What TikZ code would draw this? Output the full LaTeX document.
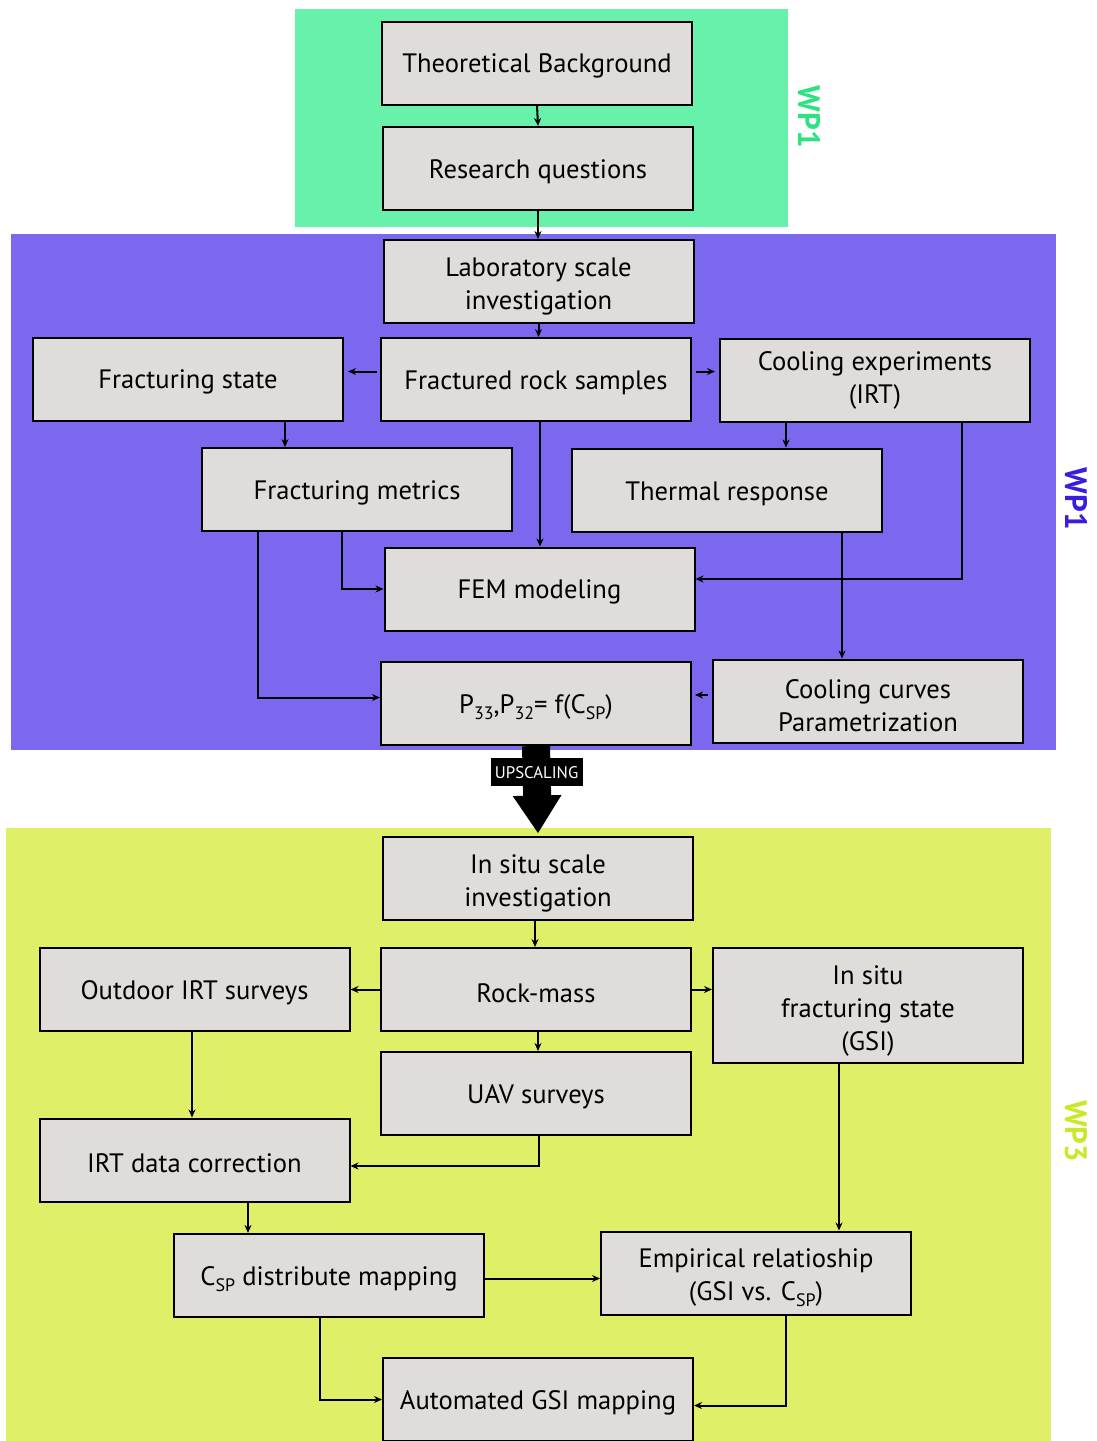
\documentclass[tikz,border=0pt]{standalone}
\usepackage{fontspec}
\setmainfont{PT Sans}
\usetikzlibrary{arrows.meta}
\definecolor{bggreen}{RGB}{103,241,170}
\definecolor{bgpurple}{RGB}{123,104,238}
\definecolor{bgyellow}{RGB}{224,239,104}
\definecolor{boxfill}{RGB}{224,220,218}
\definecolor{lblgreen}{RGB}{46,226,130}
\definecolor{lblpurple}{RGB}{58,30,222}
\definecolor{lblyellow}{RGB}{200,232,40}
\newcommand{\sbs}[1]{\raisebox{-0.45ex}{\fontsize{9}{9}\selectfont #1}}
\newcommand{\tallstrut}{\rule{0pt}{14.5pt}}
\tikzset{
  flowbox/.style={draw=black, fill=boxfill, line width=1pt, minimum width=155pt,
    minimum height=41.5pt, inner sep=0pt, align=center,
    font=\fontsize{13.3}{16.5}\selectfont,
    execute at begin node={\rule{0pt}{12.8pt}}},
  arr/.style={draw=black, line width=1pt, -{Stealth[length=4pt,width=3.5pt]}},
  wplabel/.style={rotate=-90, font=\fontsize{15.5}{15.5}\selectfont\bfseries},
  upscl/.style={fill=black, text=white, inner sep=0pt, minimum width=46pt,
    minimum height=14pt, font=\fontsize{8.4}{9}\selectfont}
}
\begin{document}
\begin{tikzpicture}[x=0.5pt,y=-0.5pt]
\useasboundingbox (0,0) rectangle (1097,1441);
% backgrounds
\fill[bggreen] (295,9) rectangle (788,227);
\fill[bgpurple] (11,234) rectangle (1056,750);
\fill[bgyellow] (6,828) rectangle (1051,1441);
% labels
\node[wplabel, text=lblgreen] (wpa) at (809,117) {WP1};
\node[wplabel, text=lblpurple] (wpb) at (1076,499) {WP1};
\node[wplabel, text=lblyellow] (wpc) at (1076,1131) {WP3};
% x helper coordinates
\coordinate (c192) at (192,0);
\coordinate (c248) at (248,0);
\coordinate (c258) at (258,0);
\coordinate (c285) at (285,0);
\coordinate (c320) at (320,0);
\coordinate (c342) at (342,0);
\coordinate (c535) at (535,0);
\coordinate (c538) at (538,0);
\coordinate (c539) at (539,0);
\coordinate (c540) at (540,0);
\coordinate (c786) at (786,0);
\coordinate (c839) at (839,0);
\coordinate (c842) at (842,0);
\coordinate (c962) at (962,0);
% WP1 green
\node[flowbox] (TB) at (537,63) {Theoretical Background};
\node[flowbox] (RQ) at (538,168.5) {Research questions};
% WP1 purple
\node[flowbox] (Lab) at (538.5,281.5) {\tallstrut Laboratory scale\\investigation};
\node[flowbox] (FS) at (188,379) {Fracturing state};
\node[flowbox] (FRS) at (536,379.5) {Fractured rock samples};
\node[flowbox] (CE) at (875,380) {Cooling experiments\\(IRT)};
\node[flowbox] (FM) at (357,489.5) {Fracturing metrics};
\node[flowbox] (TR) at (727,490) {Thermal response};
\node[flowbox] (FEM) at (539.5,589) {FEM modeling};
\node[flowbox] (P) at (536,703.5) {P\sbs{33},P\sbs{32}= f(C\sbs{SP})};
\node[flowbox] (CC) at (868,701) {\tallstrut Cooling curves\\Parametrization};
% WP3
\node[flowbox] (IS) at (538,878) {\tallstrut In situ scale\\investigation};
\node[flowbox] (OIRT) at (194.5,989.5) {Outdoor IRT surveys};
\node[flowbox] (RM) at (536,989.5) {Rock-mass};
\node[flowbox, minimum height=57.5pt] (GSI) at (868,1005.5) {\tallstrut In situ\\fracturing state\\(GSI)};
\node[flowbox] (UAV) at (536,1093.5) {UAV surveys};
\node[flowbox] (IRTC) at (194.5,1160) {IRT data correction};
\node[flowbox] (CSP) at (329,1275.5) {C\sbs{SP} distribute mapping};
\node[flowbox] (EMP) at (756,1273) {\tallstrut Empirical relatioship\\(GSI vs. C\sbs{SP})};
\node[flowbox] (AGM) at (538,1399.5) {Automated GSI mapping};
% connectors WP1
\draw[arr] (TB.south) -- (RQ.north);
\draw[arr] (RQ.south) -- (RQ.south |- Lab.north);
\draw[arr] (Lab.south) -- (Lab.south |- FRS.north);
\draw[arr, shorten <=1.5pt, shorten >=2pt] ([yshift=4pt]FRS.west) -- ([yshift=4pt]FRS.west -| FS.east);
\draw[arr, shorten <=2pt, shorten >=2pt] ([yshift=4pt]FRS.east) -- ([yshift=4pt]FRS.east -| CE.west);
\draw[arr] (FS.south -| c285) -- (FM.north -| c285);
\draw[arr] (FRS.south -| c540) -- (FEM.north -| c540);
\draw[arr] (CE.south -| c786) -- (TR.north -| c786);
\draw[arr] (CE.south -| c962) |- ([yshift=5pt]FEM.east);
\draw[arr] (FM.south -| c342) |- (FEM.west);
\draw[arr] (FM.south -| c258) |- ([yshift=3pt]P.west);
\draw[arr] (TR.south -| c842) -- (CC.north -| c842);
\draw[arr, shorten <=2pt, shorten >=1.5pt] ([yshift=3pt]CC.west) -- ([yshift=3pt]CC.west -| P.east);
% upscaling
\draw[line width=14pt, -{Triangle[length=19pt,width=23pt]}] (P.south) -- node[pos=0.3, upscl] (up) {UPSCALING} ([yshift=1pt]IS.north);
% connectors WP3
\draw[arr] (IS.south -| c535) -- (RM.north -| c535);
\draw[arr] (RM.west) -- (RM.west -| OIRT.east);
\draw[arr] (RM.east) -- (RM.east -| GSI.west);
\draw[arr] (RM.south -| c538) -- (UAV.north -| c538);
\draw[arr] (OIRT.south -| c192) -- (IRTC.north -| c192);
\draw[arr] (UAV.south -| c539) |- ([yshift=-3pt]IRTC.east);
\draw[arr] (IRTC.south -| c248) -- (CSP.north -| c248);
\draw[arr] (GSI.south -| c839) -- (EMP.north -| c839);
\draw[arr] ([yshift=-1.5pt]CSP.east) -- ([yshift=-1.5pt]CSP.east -| EMP.west);
\draw[arr] (CSP.south -| c320) |- (AGM.west);
\draw[arr] (EMP.south -| c786) |- ([yshift=-3pt]AGM.east);
\end{tikzpicture}
\end{document}
